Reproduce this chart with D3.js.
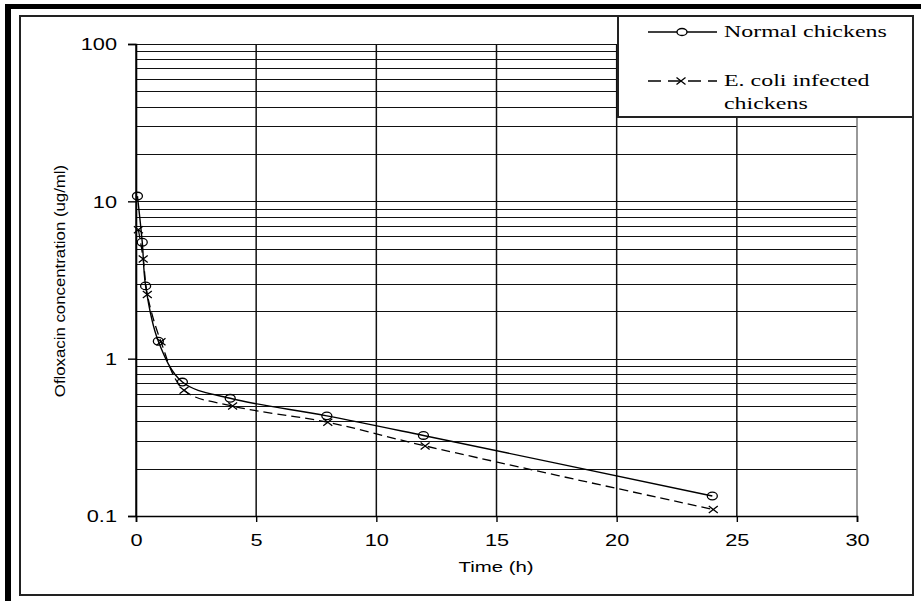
<!DOCTYPE html>
<html>
<head>
<meta charset="utf-8">
<script src="https://cdn.jsdelivr.net/npm/d3@7/dist/d3.min.js"></script>
<style>
  body { margin: 0; background: #fff; }
  svg { display: block; }
</style>
</head>
<body>
<div class="chart"></div>
<script>
// data
let normalTimes = [0.06, 0.26, 0.4, 0.93, 1.93, 3.92, 7.94, 11.96, 23.98]
let normalConc = [10.8, 5.5, 2.9, 1.29, 0.71, 0.56, 0.433, 0.325, 0.134]
let infectedTimes = [0.1, 0.3, 0.47, 1.04, 2.0, 4.02, 7.98, 12.03, 24.02]
let infectedConc = [6.6, 4.3, 2.56, 1.28, 0.63, 0.5, 0.394, 0.279, 0.11]
let xTicks = [0, 5, 10, 15, 20, 25, 30]
let yTicks = [0.1, 1, 10, 100]
let legendLabels = ['Normal chickens', 'E. coli infected', 'chickens']

window.onload = function () {
  let width = 921
  let height = 601
  let sx = 1.36 // the picture is stretched sideways, text too

  let svg = d3.select('.chart').append('svg')
    .attr('width', width)
    .attr('height', height)

  // outer frame: thick black on top and left, thin inner box
  svg.append('rect').attr('x', 5).attr('y', 4).attr('width', width - 5).attr('height', 5).attr('fill', '#000')
  svg.append('rect').attr('x', 5).attr('y', 4).attr('width', 6).attr('height', height - 4).attr('fill', '#000')
  svg.append('rect')
    .attr('x', 20).attr('y', 16).attr('width', 893).attr('height', 579)
    .attr('fill', '#fff').attr('stroke', '#222').attr('stroke-width', 2)

  let x = d3.scaleLinear().domain([0, 30]).range([136, 857])
  let y = d3.scaleLog().domain([0.1, 100]).range([516, 44])

  // grid
  let yGrid = []
  for (let k = -1; k <= 1; k++) {
    for (let m = 1; m <= 9; m++) yGrid.push(m * Math.pow(10, k))
  }
  yGrid.push(100)
  svg.append('g').selectAll('line')
    .data(yGrid)
    .enter()
    .append('line')
    .attr('x1', x(0)).attr('x2', x(30))
    .attr('y1', d => Math.round(y(d)) + 0.5).attr('y2', d => Math.round(y(d)) + 0.5)
    .attr('stroke', '#111').attr('stroke-width', 1.2)
  svg.append('g').selectAll('line')
    .data(xTicks)
    .enter()
    .append('line')
    .attr('x1', d => x(d)).attr('x2', d => x(d))
    .attr('y1', y(100)).attr('y2', y(0.1))
    .attr('stroke', d => d === 30 ? '#777' : '#111').attr('stroke-width', 1.5)

  // axes
  let xAxis = svg.append('g')
    .attr('transform', 'translate(0,' + y(0.1) + ')')
    .call(d3.axisBottom(x).tickValues(xTicks).tickSize(6).tickFormat(d3.format('d')))
  let yAxis = svg.append('g')
    .attr('transform', 'translate(' + x(0) + ',0)')
    .call(d3.axisLeft(y).tickValues(yTicks).tickSize(8).tickFormat(d => d < 1 ? '0.1' : String(d)))
  ;[xAxis, yAxis].forEach(function (a) {
    a.select('.domain').attr('stroke', '#000').attr('stroke-width', 1.6)
    a.selectAll('.tick line').attr('stroke', '#000').attr('stroke-width', 1.4)
    a.selectAll('.tick text').attr('fill', '#000')
      .style('font-family', 'Liberation Sans, Arial, sans-serif').style('font-size', '16px')
  })
  // stretch tick labels sideways like the picture
  xAxis.selectAll('.tick text')
    .attr('y', 0).attr('dy', 0)
    .attr('transform', 'translate(0,30) scale(' + sx + ',1)')
  yAxis.selectAll('.tick text')
    .attr('x', 0).attr('dy', '0.36em')
    .attr('transform', 'translate(-19,0) scale(' + sx + ',1)')

  // axis titles
  svg.append('text')
    .attr('transform', 'translate(496,572) scale(' + sx + ',1)')
    .attr('text-anchor', 'middle')
    .style('font-family', 'Liberation Sans, Arial, sans-serif').style('font-size', '15px')
    .text('Time (h)')
  svg.append('text')
    .attr('transform', 'translate(65,281) rotate(-90) scale(1.2,1)')
    .attr('text-anchor', 'middle')
    .style('font-family', 'Liberation Sans, Arial, sans-serif').style('font-size', '14px')
    .text('Ofloxacin concentration (ug/ml)')

  // series
  let normal = normalTimes.map((t, i) => ({ t: t, c: normalConc[i] }))
  let infected = infectedTimes.map((t, i) => ({ t: t, c: infectedConc[i] }))
  let line = d3.line()
    .x(d => x(d.t))
    .y(d => y(d.c))
    .curve(d3.curveCatmullRom.alpha(0.5))

  svg.append('path').datum(infected)
    .attr('d', line).attr('fill', 'none')
    .attr('stroke', '#000').attr('stroke-width', 1.3).attr('stroke-dasharray', '9,5')
  svg.append('path').datum(normal)
    .attr('d', line).attr('fill', 'none')
    .attr('stroke', '#000').attr('stroke-width', 1.4)

  function cross(g, cx, cy) {
    g.append('path')
      .attr('d', 'M' + (cx - 4.5) + ',' + (cy - 3.5) + 'L' + (cx + 4.5) + ',' + (cy + 3.5) +
        'M' + (cx - 4.5) + ',' + (cy + 3.5) + 'L' + (cx + 4.5) + ',' + (cy - 3.5))
      .attr('stroke', '#000').attr('stroke-width', 1.3).attr('fill', 'none')
  }
  let marks = svg.append('g')
  infected.forEach(d => cross(marks, x(d.t), y(d.c)))
  marks.selectAll('ellipse')
    .data(normal)
    .enter()
    .append('ellipse')
    .attr('cx', d => x(d.t)).attr('cy', d => y(d.c))
    .attr('rx', 5).attr('ry', 3.8)
    .attr('fill', 'none').attr('stroke', '#000').attr('stroke-width', 1.3)

  // legend
  let lg = svg.append('g')
  lg.append('rect')
    .attr('x', 618).attr('y', 16).attr('width', 295).attr('height', 101)
    .attr('fill', '#fff').attr('stroke', '#222').attr('stroke-width', 2)
  lg.append('line').attr('x1', 648).attr('x2', 717).attr('y1', 32).attr('y2', 32)
    .attr('stroke', '#000').attr('stroke-width', 1.4)
  lg.append('ellipse').attr('cx', 682).attr('cy', 32).attr('rx', 5).attr('ry', 3.5)
    .attr('fill', '#fff').attr('stroke', '#000').attr('stroke-width', 1.3)
  lg.append('line').attr('x1', 648).attr('x2', 717).attr('y1', 81).attr('y2', 81)
    .attr('stroke', '#000').attr('stroke-width', 1.4).attr('stroke-dasharray', '13,7')
  cross(lg, 681, 81)
  let lgY = [37, 86, 109]
  lg.selectAll('text')
    .data(legendLabels)
    .enter()
    .append('text')
    .attr('transform', (d, i) => 'translate(724,' + lgY[i] + ') scale(' + sx + ',1)')
    .style('font-family', 'Liberation Serif, Times New Roman, serif').style('font-size', '17.6px')
    .text(d => d)
}
</script>
</body>
</html>
